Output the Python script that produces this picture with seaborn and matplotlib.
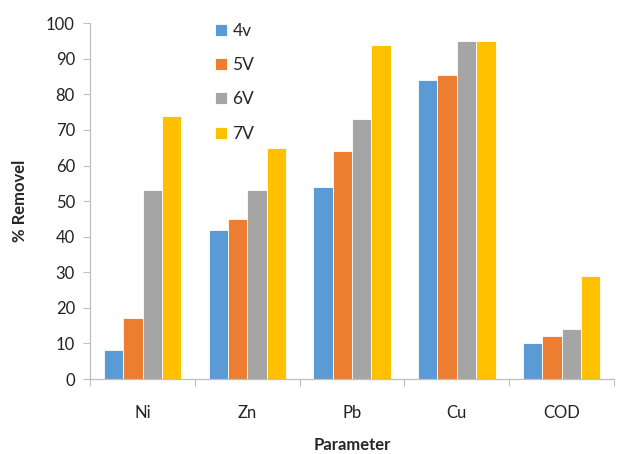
import matplotlib
matplotlib.use("Agg")
import matplotlib.pyplot as plt
import seaborn as sns
import pandas as pd
import numpy as np

# Removal efficiency (%) per parameter at each applied voltage
parameters = ["Ni", "Zn", "Pb", "Cu", "COD"]
voltages = ["4v", "5V", "6V", "7V"]
removal_4v = [8.2, 42, 54, 84, 10]
removal_5v = [17.3, 45, 64, 85.3, 12]
removal_6v = [53, 53, 73, 95, 14]
removal_7v = [74, 65, 94, 95, 29]
colors = ["#5B9BD5", "#ED7D31", "#A5A5A5", "#FFC000"]

df = pd.DataFrame({
    "Parameter": parameters * 4,
    "Voltage": sum([[v] * len(parameters) for v in voltages], []),
    "Removal": removal_4v + removal_5v + removal_6v + removal_7v,
})

sns.set_theme(style="white")
plt.rcParams["font.family"] = ["Lato", "DejaVu Sans"]

fig = plt.figure(figsize=(6.31, 4.54), dpi=100)
ax = fig.add_axes([0.143, 0.165, 0.830, 0.784])

sns.barplot(data=df, x="Parameter", y="Removal", hue="Voltage",
            order=parameters, hue_order=voltages, palette=colors,
            saturation=1, width=0.74, edgecolor="white", linewidth=0.6,
            errorbar=None, ax=ax)

ax.set_ylim(0, 100)
ax.set_xlim(-0.5, len(parameters) - 0.5)
ax.set_yticks(np.arange(0, 101, 10))
ax.tick_params(axis="y", which="major", left=True, length=5, width=0.8,
               color="#BFBFBF", labelsize=12, labelcolor="#222222", pad=6)

# category separators as ticks on the x axis
ax.set_xticks(np.arange(-0.5, len(parameters), 1.0), minor=True)
ax.tick_params(axis="x", which="minor", bottom=True, length=5, width=0.8,
               color="#BFBFBF")
ax.tick_params(axis="x", which="major", bottom=False, labelsize=12,
               labelcolor="#222222", pad=13)

for side in ["top", "right"]:
    ax.spines[side].set_visible(False)
for side in ["left", "bottom"]:
    ax.spines[side].set_color("#BFBFBF")
    ax.spines[side].set_linewidth(0.9)

ax.set_xlabel("Parameter", fontsize=12, fontweight="bold", labelpad=11)
ax.set_ylabel("% Removel", fontsize=12, fontweight="bold", labelpad=13)

ax.legend(title=None, frameon=False, loc="upper left",
          bbox_to_anchor=(0.225, 1.02), fontsize=12.5,
          handlelength=0.7, handleheight=0.7, handletextpad=0.3,
          labelspacing=1.05, borderaxespad=0)

fig.savefig("out.png", dpi=100)
